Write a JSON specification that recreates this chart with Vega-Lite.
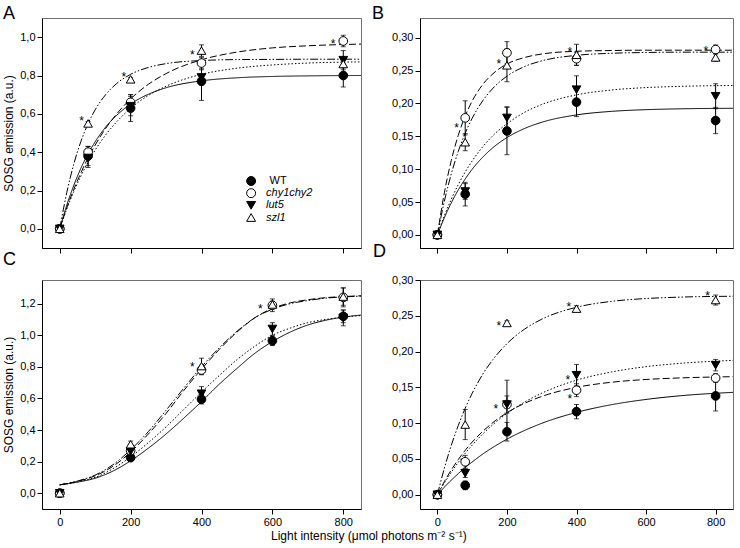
{
"$schema": "https://vega.github.io/schema/vega-lite/v6.json",
"padding": {"left": 2, "top": 4, "right": 6, "bottom": 4},
"background": "white",
"title": {"text": "Light intensity (μmol photons m⁻² s⁻¹)", "orient": "bottom", "anchor": "middle", "fontSize": 12, "fontWeight": "normal", "font": "Liberation Sans", "offset": 3, "color": "black"},
"datasets": {
"legend": [{"series":"WT"},{"series":"chy1chy2"},{"series":"lut5"},{"series":"szl1"}],
"points": [
{"panel":"A","series":"WT","x":0,"y":0,"err":0},{"panel":"A","series":"WT","x":80,"y":0.38,"err":0.05},{"panel":"A","series":"WT","x":200,"y":0.63,"err":0.07},{"panel":"A","series":"WT","x":400,"y":0.77,"err":0.1},{"panel":"A","series":"WT","x":800,"y":0.8,"err":0.06},
{"panel":"A","series":"chy1chy2","x":0,"y":0,"err":0},{"panel":"A","series":"chy1chy2","x":80,"y":0.4,"err":0.03},{"panel":"A","series":"chy1chy2","x":200,"y":0.66,"err":0.04},{"panel":"A","series":"chy1chy2","x":400,"y":0.865,"err":0.03},{"panel":"A","series":"chy1chy2","x":800,"y":0.98,"err":0.03},
{"panel":"A","series":"lut5","x":0,"y":0,"err":0},{"panel":"A","series":"lut5","x":80,"y":0.37,"err":0.05},{"panel":"A","series":"lut5","x":200,"y":0.64,"err":0.05},{"panel":"A","series":"lut5","x":400,"y":0.79,"err":0.04},{"panel":"A","series":"lut5","x":800,"y":0.88,"err":0.05},
{"panel":"A","series":"szl1","x":0,"y":0,"err":0},{"panel":"A","series":"szl1","x":80,"y":0.55,"err":0.01},{"panel":"A","series":"szl1","x":200,"y":0.78,"err":0.01},{"panel":"A","series":"szl1","x":400,"y":0.93,"err":0.03},{"panel":"A","series":"szl1","x":800,"y":0.86,"err":0.02},
{"panel":"B","series":"WT","x":0,"y":0,"err":0},{"panel":"B","series":"WT","x":80,"y":0.062,"err":0.018},{"panel":"B","series":"WT","x":200,"y":0.158,"err":0.036},{"panel":"B","series":"WT","x":400,"y":0.202,"err":0.022},{"panel":"B","series":"WT","x":800,"y":0.174,"err":0.02},
{"panel":"B","series":"chy1chy2","x":0,"y":0,"err":0},{"panel":"B","series":"chy1chy2","x":80,"y":0.178,"err":0.026},{"panel":"B","series":"chy1chy2","x":200,"y":0.277,"err":0.017},{"panel":"B","series":"chy1chy2","x":400,"y":0.268,"err":0.01},{"panel":"B","series":"chy1chy2","x":800,"y":0.282,"err":0.007},
{"panel":"B","series":"lut5","x":0,"y":0,"err":0},{"panel":"B","series":"lut5","x":80,"y":0.066,"err":0.012},{"panel":"B","series":"lut5","x":200,"y":0.178,"err":0.017},{"panel":"B","series":"lut5","x":400,"y":0.221,"err":0.021},{"panel":"B","series":"lut5","x":800,"y":0.211,"err":0.019},
{"panel":"B","series":"szl1","x":0,"y":0,"err":0},{"panel":"B","series":"szl1","x":80,"y":0.141,"err":0.013},{"panel":"B","series":"szl1","x":200,"y":0.258,"err":0.025},{"panel":"B","series":"szl1","x":400,"y":0.274,"err":0.016},{"panel":"B","series":"szl1","x":800,"y":0.27,"err":0.006},
{"panel":"C","series":"WT","x":0,"y":0,"err":0},{"panel":"C","series":"WT","x":200,"y":0.225,"err":0.02},{"panel":"C","series":"WT","x":400,"y":0.595,"err":0.03},{"panel":"C","series":"WT","x":600,"y":0.965,"err":0.03},{"panel":"C","series":"WT","x":800,"y":1.12,"err":0.04},
{"panel":"C","series":"chy1chy2","x":0,"y":0,"err":0},{"panel":"C","series":"chy1chy2","x":200,"y":0.27,"err":0.02},{"panel":"C","series":"chy1chy2","x":400,"y":0.78,"err":0.03},{"panel":"C","series":"chy1chy2","x":600,"y":1.19,"err":0.04},{"panel":"C","series":"chy1chy2","x":800,"y":1.24,"err":0.06},
{"panel":"C","series":"lut5","x":0,"y":0,"err":0},{"panel":"C","series":"lut5","x":200,"y":0.265,"err":0.02},{"panel":"C","series":"lut5","x":400,"y":0.63,"err":0.045},{"panel":"C","series":"lut5","x":600,"y":1.04,"err":0.04},{"panel":"C","series":"lut5","x":800,"y":1.11,"err":0.05},
{"panel":"C","series":"szl1","x":0,"y":0,"err":0},{"panel":"C","series":"szl1","x":200,"y":0.31,"err":0.02},{"panel":"C","series":"szl1","x":400,"y":0.805,"err":0.05},{"panel":"C","series":"szl1","x":600,"y":1.195,"err":0.02},{"panel":"C","series":"szl1","x":800,"y":1.245,"err":0.055},
{"panel":"D","series":"WT","x":0,"y":0,"err":0},{"panel":"D","series":"WT","x":80,"y":0.013,"err":0.006},{"panel":"D","series":"WT","x":200,"y":0.088,"err":0.013},{"panel":"D","series":"WT","x":400,"y":0.116,"err":0.01},{"panel":"D","series":"WT","x":800,"y":0.138,"err":0.021},
{"panel":"D","series":"chy1chy2","x":0,"y":0,"err":0},{"panel":"D","series":"chy1chy2","x":80,"y":0.046,"err":0.009},{"panel":"D","series":"chy1chy2","x":200,"y":0.126,"err":0.012},{"panel":"D","series":"chy1chy2","x":400,"y":0.146,"err":0.009},{"panel":"D","series":"chy1chy2","x":800,"y":0.163,"err":0.006},
{"panel":"D","series":"lut5","x":0,"y":0,"err":0},{"panel":"D","series":"lut5","x":80,"y":0.03,"err":0.006},{"panel":"D","series":"lut5","x":200,"y":0.126,"err":0.034},{"panel":"D","series":"lut5","x":400,"y":0.167,"err":0.015},{"panel":"D","series":"lut5","x":800,"y":0.181,"err":0.008},
{"panel":"D","series":"szl1","x":0,"y":0,"err":0},{"panel":"D","series":"szl1","x":80,"y":0.098,"err":0.021},{"panel":"D","series":"szl1","x":200,"y":0.24,"err":0.003},{"panel":"D","series":"szl1","x":400,"y":0.26,"err":0.004},{"panel":"D","series":"szl1","x":800,"y":0.272,"err":0.007}
],
"curves": [
{"panel":"A","series":"WT","x":0,"y":0},{"panel":"A","series":"WT","x":20,"y":0.124},{"panel":"A","series":"WT","x":40,"y":0.228},{"panel":"A","series":"WT","x":60,"y":0.317},{"panel":"A","series":"WT","x":80,"y":0.391},{"panel":"A","series":"WT","x":100,"y":0.454},{"panel":"A","series":"WT","x":130,"y":0.532},{"panel":"A","series":"WT","x":160,"y":0.591},{"panel":"A","series":"WT","x":200,"y":0.651},{"panel":"A","series":"WT","x":250,"y":0.702},{"panel":"A","series":"WT","x":300,"y":0.736},{"panel":"A","series":"WT","x":400,"y":0.772},{"panel":"A","series":"WT","x":500,"y":0.788},{"panel":"A","series":"WT","x":600,"y":0.795},{"panel":"A","series":"WT","x":700,"y":0.798},{"panel":"A","series":"WT","x":850,"y":0.8},
{"panel":"A","series":"chy1chy2","x":0,"y":0},{"panel":"A","series":"chy1chy2","x":20,"y":0.11},{"panel":"A","series":"chy1chy2","x":40,"y":0.207},{"panel":"A","series":"chy1chy2","x":60,"y":0.293},{"panel":"A","series":"chy1chy2","x":80,"y":0.37},{"panel":"A","series":"chy1chy2","x":100,"y":0.437},{"panel":"A","series":"chy1chy2","x":130,"y":0.525},{"panel":"A","series":"chy1chy2","x":160,"y":0.598},{"panel":"A","series":"chy1chy2","x":200,"y":0.678},{"panel":"A","series":"chy1chy2","x":250,"y":0.754},{"panel":"A","series":"chy1chy2","x":300,"y":0.81},{"panel":"A","series":"chy1chy2","x":400,"y":0.882},{"panel":"A","series":"chy1chy2","x":500,"y":0.922},{"panel":"A","series":"chy1chy2","x":600,"y":0.944},{"panel":"A","series":"chy1chy2","x":700,"y":0.955},{"panel":"A","series":"chy1chy2","x":850,"y":0.964},
{"panel":"A","series":"lut5","x":0,"y":0},{"panel":"A","series":"lut5","x":20,"y":0.104},{"panel":"A","series":"lut5","x":40,"y":0.196},{"panel":"A","series":"lut5","x":60,"y":0.277},{"panel":"A","series":"lut5","x":80,"y":0.348},{"panel":"A","series":"lut5","x":100,"y":0.411},{"panel":"A","series":"lut5","x":130,"y":0.491},{"panel":"A","series":"lut5","x":160,"y":0.557},{"panel":"A","series":"lut5","x":200,"y":0.629},{"panel":"A","series":"lut5","x":250,"y":0.696},{"panel":"A","series":"lut5","x":300,"y":0.744},{"panel":"A","series":"lut5","x":400,"y":0.806},{"panel":"A","series":"lut5","x":500,"y":0.838},{"panel":"A","series":"lut5","x":600,"y":0.855},{"panel":"A","series":"lut5","x":700,"y":0.865},{"panel":"A","series":"lut5","x":850,"y":0.871},
{"panel":"A","series":"szl1","x":0,"y":0},{"panel":"A","series":"szl1","x":20,"y":0.19},{"panel":"A","series":"szl1","x":40,"y":0.34},{"panel":"A","series":"szl1","x":60,"y":0.457},{"panel":"A","series":"szl1","x":80,"y":0.549},{"panel":"A","series":"szl1","x":100,"y":0.621},{"panel":"A","series":"szl1","x":130,"y":0.701},{"panel":"A","series":"szl1","x":160,"y":0.757},{"panel":"A","series":"szl1","x":200,"y":0.806},{"panel":"A","series":"szl1","x":250,"y":0.842},{"panel":"A","series":"szl1","x":300,"y":0.862},{"panel":"A","series":"szl1","x":400,"y":0.878},{"panel":"A","series":"szl1","x":500,"y":0.883},{"panel":"A","series":"szl1","x":600,"y":0.884},{"panel":"A","series":"szl1","x":700,"y":0.885},{"panel":"A","series":"szl1","x":850,"y":0.885},
{"panel":"B","series":"WT","x":0,"y":0},{"panel":"B","series":"WT","x":20,"y":0.026},{"panel":"B","series":"WT","x":40,"y":0.0488},{"panel":"B","series":"WT","x":60,"y":0.0683},{"panel":"B","series":"WT","x":80,"y":0.085},{"panel":"B","series":"WT","x":100,"y":0.0998},{"panel":"B","series":"WT","x":130,"y":0.118},{"panel":"B","series":"WT","x":160,"y":0.1328},{"panel":"B","series":"WT","x":200,"y":0.148},{"panel":"B","series":"WT","x":250,"y":0.1617},{"panel":"B","series":"WT","x":300,"y":0.1713},{"panel":"B","series":"WT","x":400,"y":0.1825},{"panel":"B","series":"WT","x":500,"y":0.1879},{"panel":"B","series":"WT","x":600,"y":0.1905},{"panel":"B","series":"WT","x":700,"y":0.1918},{"panel":"B","series":"WT","x":850,"y":0.1926},
{"panel":"B","series":"chy1chy2","x":0,"y":0},{"panel":"B","series":"chy1chy2","x":20,"y":0.0639},{"panel":"B","series":"chy1chy2","x":40,"y":0.1133},{"panel":"B","series":"chy1chy2","x":60,"y":0.1514},{"panel":"B","series":"chy1chy2","x":80,"y":0.181},{"panel":"B","series":"chy1chy2","x":100,"y":0.2036},{"panel":"B","series":"chy1chy2","x":130,"y":0.2285},{"panel":"B","series":"chy1chy2","x":160,"y":0.2453},{"panel":"B","series":"chy1chy2","x":200,"y":0.26},{"panel":"B","series":"chy1chy2","x":250,"y":0.2698},{"panel":"B","series":"chy1chy2","x":300,"y":0.2752},{"panel":"B","series":"chy1chy2","x":400,"y":0.2794},{"panel":"B","series":"chy1chy2","x":500,"y":0.2805},{"panel":"B","series":"chy1chy2","x":600,"y":0.281},{"panel":"B","series":"chy1chy2","x":700,"y":0.281},{"panel":"B","series":"chy1chy2","x":850,"y":0.281},
{"panel":"B","series":"lut5","x":0,"y":0},{"panel":"B","series":"lut5","x":20,"y":0.029},{"panel":"B","series":"lut5","x":40,"y":0.0543},{"panel":"B","series":"lut5","x":60,"y":0.0764},{"panel":"B","series":"lut5","x":80,"y":0.0957},{"panel":"B","series":"lut5","x":100,"y":0.1125},{"panel":"B","series":"lut5","x":130,"y":0.1338},{"panel":"B","series":"lut5","x":160,"y":0.1512},{"panel":"B","series":"lut5","x":200,"y":0.169},{"panel":"B","series":"lut5","x":250,"y":0.1863},{"panel":"B","series":"lut5","x":300,"y":0.1984},{"panel":"B","series":"lut5","x":400,"y":0.213},{"panel":"B","series":"lut5","x":500,"y":0.2204},{"panel":"B","series":"lut5","x":600,"y":0.2241},{"panel":"B","series":"lut5","x":700,"y":0.226},{"panel":"B","series":"lut5","x":850,"y":0.2273},
{"panel":"B","series":"szl1","x":0,"y":0},{"panel":"B","series":"szl1","x":20,"y":0.051},{"panel":"B","series":"szl1","x":40,"y":0.0928},{"panel":"B","series":"szl1","x":60,"y":0.127},{"panel":"B","series":"szl1","x":80,"y":0.1547},{"panel":"B","series":"szl1","x":100,"y":0.1774},{"panel":"B","series":"szl1","x":130,"y":0.2038},{"panel":"B","series":"szl1","x":160,"y":0.2233},{"panel":"B","series":"szl1","x":200,"y":0.2415},{"panel":"B","series":"szl1","x":250,"y":0.256},{"panel":"B","series":"szl1","x":300,"y":0.2648},{"panel":"B","series":"szl1","x":400,"y":0.2732},{"panel":"B","series":"szl1","x":500,"y":0.2763},{"panel":"B","series":"szl1","x":600,"y":0.2775},{"panel":"B","series":"szl1","x":700,"y":0.278},{"panel":"B","series":"szl1","x":850,"y":0.278},
{"panel":"C","series":"WT","x":0,"y":0.053},{"panel":"C","series":"WT","x":50,"y":0.07},{"panel":"C","series":"WT","x":100,"y":0.095},{"panel":"C","series":"WT","x":150,"y":0.14},{"panel":"C","series":"WT","x":200,"y":0.205},{"panel":"C","series":"WT","x":250,"y":0.285},{"panel":"C","series":"WT","x":300,"y":0.375},{"panel":"C","series":"WT","x":350,"y":0.475},{"panel":"C","series":"WT","x":400,"y":0.58},{"panel":"C","series":"WT","x":450,"y":0.69},{"panel":"C","series":"WT","x":500,"y":0.79},{"panel":"C","series":"WT","x":550,"y":0.885},{"panel":"C","series":"WT","x":600,"y":0.96},{"panel":"C","series":"WT","x":650,"y":1.02},{"panel":"C","series":"WT","x":700,"y":1.065},{"panel":"C","series":"WT","x":750,"y":1.095},{"panel":"C","series":"WT","x":800,"y":1.115},{"panel":"C","series":"WT","x":850,"y":1.128},
{"panel":"C","series":"chy1chy2","x":0,"y":0.053},{"panel":"C","series":"chy1chy2","x":50,"y":0.075},{"panel":"C","series":"chy1chy2","x":100,"y":0.11},{"panel":"C","series":"chy1chy2","x":150,"y":0.17},{"panel":"C","series":"chy1chy2","x":200,"y":0.26},{"panel":"C","series":"chy1chy2","x":250,"y":0.375},{"panel":"C","series":"chy1chy2","x":300,"y":0.505},{"panel":"C","series":"chy1chy2","x":350,"y":0.65},{"panel":"C","series":"chy1chy2","x":400,"y":0.785},{"panel":"C","series":"chy1chy2","x":450,"y":0.91},{"panel":"C","series":"chy1chy2","x":500,"y":1.02},{"panel":"C","series":"chy1chy2","x":550,"y":1.11},{"panel":"C","series":"chy1chy2","x":600,"y":1.17},{"panel":"C","series":"chy1chy2","x":650,"y":1.205},{"panel":"C","series":"chy1chy2","x":700,"y":1.225},{"panel":"C","series":"chy1chy2","x":750,"y":1.238},{"panel":"C","series":"chy1chy2","x":800,"y":1.245},{"panel":"C","series":"chy1chy2","x":850,"y":1.25},
{"panel":"C","series":"lut5","x":0,"y":0.053},{"panel":"C","series":"lut5","x":50,"y":0.072},{"panel":"C","series":"lut5","x":100,"y":0.1},{"panel":"C","series":"lut5","x":150,"y":0.155},{"panel":"C","series":"lut5","x":200,"y":0.23},{"panel":"C","series":"lut5","x":250,"y":0.32},{"panel":"C","series":"lut5","x":300,"y":0.42},{"panel":"C","series":"lut5","x":350,"y":0.53},{"panel":"C","series":"lut5","x":400,"y":0.64},{"panel":"C","series":"lut5","x":450,"y":0.745},{"panel":"C","series":"lut5","x":500,"y":0.845},{"panel":"C","series":"lut5","x":550,"y":0.93},{"panel":"C","series":"lut5","x":600,"y":1.0},{"panel":"C","series":"lut5","x":650,"y":1.045},{"panel":"C","series":"lut5","x":700,"y":1.08},{"panel":"C","series":"lut5","x":750,"y":1.1},{"panel":"C","series":"lut5","x":800,"y":1.115},{"panel":"C","series":"lut5","x":850,"y":1.125},
{"panel":"C","series":"szl1","x":0,"y":0.053},{"panel":"C","series":"szl1","x":50,"y":0.077},{"panel":"C","series":"szl1","x":100,"y":0.115},{"panel":"C","series":"szl1","x":150,"y":0.18},{"panel":"C","series":"szl1","x":200,"y":0.275},{"panel":"C","series":"szl1","x":250,"y":0.39},{"panel":"C","series":"szl1","x":300,"y":0.525},{"panel":"C","series":"szl1","x":350,"y":0.665},{"panel":"C","series":"szl1","x":400,"y":0.8},{"panel":"C","series":"szl1","x":450,"y":0.92},{"panel":"C","series":"szl1","x":500,"y":1.025},{"panel":"C","series":"szl1","x":550,"y":1.11},{"panel":"C","series":"szl1","x":600,"y":1.165},{"panel":"C","series":"szl1","x":650,"y":1.2},{"panel":"C","series":"szl1","x":700,"y":1.22},{"panel":"C","series":"szl1","x":750,"y":1.235},{"panel":"C","series":"szl1","x":800,"y":1.243},{"panel":"C","series":"szl1","x":850,"y":1.248},
{"panel":"D","series":"WT","x":0,"y":0},{"panel":"D","series":"WT","x":20,"y":0.0105},{"panel":"D","series":"WT","x":40,"y":0.0203},{"panel":"D","series":"WT","x":60,"y":0.0294},{"panel":"D","series":"WT","x":80,"y":0.038},{"panel":"D","series":"WT","x":100,"y":0.0457},{"panel":"D","series":"WT","x":130,"y":0.0566},{"panel":"D","series":"WT","x":160,"y":0.0662},{"panel":"D","series":"WT","x":200,"y":0.0776},{"panel":"D","series":"WT","x":250,"y":0.0896},{"panel":"D","series":"WT","x":300,"y":0.0997},{"panel":"D","series":"WT","x":400,"y":0.115},{"panel":"D","series":"WT","x":500,"y":0.1257},{"panel":"D","series":"WT","x":600,"y":0.1331},{"panel":"D","series":"WT","x":700,"y":0.1383},{"panel":"D","series":"WT","x":850,"y":0.143},
{"panel":"D","series":"chy1chy2","x":0,"y":0},{"panel":"D","series":"chy1chy2","x":20,"y":0.0183},{"panel":"D","series":"chy1chy2","x":40,"y":0.0346},{"panel":"D","series":"chy1chy2","x":60,"y":0.0491},{"panel":"D","series":"chy1chy2","x":80,"y":0.062},{"panel":"D","series":"chy1chy2","x":100,"y":0.0735},{"panel":"D","series":"chy1chy2","x":130,"y":0.0883},{"panel":"D","series":"chy1chy2","x":160,"y":0.1009},{"panel":"D","series":"chy1chy2","x":200,"y":0.1146},{"panel":"D","series":"chy1chy2","x":250,"y":0.1275},{"panel":"D","series":"chy1chy2","x":300,"y":0.1373},{"panel":"D","series":"chy1chy2","x":400,"y":0.15},{"panel":"D","series":"chy1chy2","x":500,"y":0.1571},{"panel":"D","series":"chy1chy2","x":600,"y":0.161},{"panel":"D","series":"chy1chy2","x":700,"y":0.1632},{"panel":"D","series":"chy1chy2","x":850,"y":0.1649},
{"panel":"D","series":"lut5","x":0,"y":0},{"panel":"D","series":"lut5","x":20,"y":0.0164},{"panel":"D","series":"lut5","x":40,"y":0.0314},{"panel":"D","series":"lut5","x":60,"y":0.0451},{"panel":"D","series":"lut5","x":80,"y":0.0578},{"panel":"D","series":"lut5","x":100,"y":0.0692},{"panel":"D","series":"lut5","x":130,"y":0.0846},{"panel":"D","series":"lut5","x":160,"y":0.0981},{"panel":"D","series":"lut5","x":200,"y":0.1135},{"panel":"D","series":"lut5","x":250,"y":0.1292},{"panel":"D","series":"lut5","x":300,"y":0.1418},{"panel":"D","series":"lut5","x":400,"y":0.16},{"panel":"D","series":"lut5","x":500,"y":0.1714},{"panel":"D","series":"lut5","x":600,"y":0.1789},{"panel":"D","series":"lut5","x":700,"y":0.1836},{"panel":"D","series":"lut5","x":850,"y":0.1877},
{"panel":"D","series":"szl1","x":0,"y":0},{"panel":"D","series":"szl1","x":20,"y":0.0369},{"panel":"D","series":"szl1","x":40,"y":0.069},{"panel":"D","series":"szl1","x":60,"y":0.0966},{"panel":"D","series":"szl1","x":80,"y":0.1208},{"panel":"D","series":"szl1","x":100,"y":0.1416},{"panel":"D","series":"szl1","x":130,"y":0.168},{"panel":"D","series":"szl1","x":160,"y":0.189},{"panel":"D","series":"szl1","x":200,"y":0.211},{"panel":"D","series":"szl1","x":250,"y":0.2311},{"panel":"D","series":"szl1","x":300,"y":0.2452},{"panel":"D","series":"szl1","x":400,"y":0.2619},{"panel":"D","series":"szl1","x":500,"y":0.2701},{"panel":"D","series":"szl1","x":600,"y":0.2741},{"panel":"D","series":"szl1","x":700,"y":0.2761},{"panel":"D","series":"szl1","x":850,"y":0.2773}
],
"stars": [
{"panel":"A","x":62,"y":0.576},{"panel":"A","x":181,"y":0.81},{"panel":"A","x":374,"y":0.925},{"panel":"A","x":771,"y":0.98},
{"panel":"B","x":55,"y":0.167},{"panel":"B","x":177,"y":0.264},{"panel":"B","x":381,"y":0.283},{"panel":"B","x":772,"y":0.284},
{"panel":"C","x":566,"y":1.183},{"panel":"C","x":374,"y":0.815},
{"panel":"D","x":177,"y":0.24},{"panel":"D","x":378,"y":0.266},{"panel":"D","x":777,"y":0.282},{"panel":"D","x":168,"y":0.124},{"panel":"D","x":375,"y":0.164},{"panel":"D","x":381,"y":0.138}
]
},
"columns": 2,
"spacing": {"row": 32, "column": 59},
"bounds": "flush",
"resolve": {"scale": {"x": "independent", "y": "independent", "shape": "independent", "color": "independent", "strokeDash": "independent"}, "legend": {"shape": "independent", "color": "independent"}},
"concat": [
{"width": 319, "height": 230,
"view": {"stroke": "#707070"},
"title": {"text": "A", "anchor": "start", "frame": "group", "dx": -39, "offset": -19, "fontSize": 18, "fontWeight": "normal", "baseline": "alphabetic"},
"resolve": {"scale": {"y": "independent"}},
"layer": [
{"encoding": {
"x": {"field": "x", "type": "quantitative", "scale": {"domain": [-50, 850], "nice": false, "zero": false}, "axis": {"values": [0,200,400,600,800], "labels": false, "title": null}},
"y": {"field": "y", "type": "quantitative", "scale": {"domain": [-0.1, 1.1], "nice": false, "zero": false}, "axis": {"values": [0,0.2,0.4,0.6,0.8,1.0], "labelExpr": "replace(format(datum.value, '.1f'), '.', ',')", "title": "SOSG emission (a.u.)"}}
},
"layer": [
{"data": {"name": "curves"}, "transform": [{"filter": "datum.panel === 'A'"}], "mark": {"type": "line", "color": "black", "strokeWidth": 1, "interpolate": "monotone"}, "encoding": {"strokeDash": {"field": "series", "type": "nominal", "scale": {"domain": ["WT","chy1chy2","lut5","szl1"], "range": [[1,0],[7,3],[1.5,2],[8,2,1.5,2,1.5,2]]}, "legend": null}}},
{"data": {"name": "points"}, "transform": [{"filter": "datum.panel === 'A'"}], "mark": {"type": "errorbar", "ticks": true, "color": "black"}, "encoding": {"yError": {"field": "err"}}},
{"data": {"name": "points"}, "transform": [{"filter": "datum.panel === 'A'"}], "mark": {"type": "point", "filled": true, "stroke": "black", "strokeWidth": 1, "size": 75, "opacity": 1}, "encoding": {
"shape": {"field": "series", "type": "nominal", "scale": {"domain": ["WT","chy1chy2","lut5","szl1"], "range": ["circle","circle","triangle-down","triangle-up"]}, "legend": null},
"color": {"field": "series", "type": "nominal", "scale": {"domain": ["WT","chy1chy2","lut5","szl1"], "range": ["black","white","black","white"]}, "legend": null}
}},
{"data": {"name": "stars"}, "transform": [{"filter": "datum.panel === 'A'"}], "mark": {"type": "text", "text": "*", "fontSize": 12, "baseline": "alphabetic", "dy": 7, "color": "black"}}
]},
{"data": {"name": "legend"},
"encoding": {
"x": {"datum": 540, "type": "quantitative", "axis": {"values": [0,200,400,600,800], "labels": false, "title": null}},
"y": {"field": "series", "type": "nominal", "scale": {"domain": ["WT","chy1chy2","lut5","szl1"], "range": [163, 199.5], "padding": 0}, "axis": null}
},
"layer": [
{"mark": {"type": "point", "filled": true, "stroke": "black", "strokeWidth": 1, "size": 80, "opacity": 1}, "encoding": {
"shape": {"field": "series", "type": "nominal", "scale": {"domain": ["WT","chy1chy2","lut5","szl1"], "range": ["circle","circle","triangle-down","triangle-up"]}, "legend": null},
"color": {"field": "series", "type": "nominal", "scale": {"domain": ["WT","chy1chy2","lut5","szl1"], "range": ["black","white","black","white"]}, "legend": null}
}},
{"transform": [{"filter": "datum.series === 'WT'"}], "mark": {"type": "text", "align": "left", "baseline": "middle", "fontSize": 11, "color": "black"}, "encoding": {"x": {"datum": 592, "type": "quantitative"}, "text": {"field": "series"}}},
{"transform": [{"filter": "datum.series !== 'WT'"}], "mark": {"type": "text", "align": "left", "baseline": "middle", "fontSize": 11, "fontStyle": "italic", "color": "black"}, "encoding": {"x": {"datum": 582, "type": "quantitative"}, "text": {"field": "series"}}}
]}
]},
{"width": 313, "height": 230,
"view": {"stroke": "#707070"},
"title": {"text": "B", "anchor": "start", "frame": "group", "dx": -48, "offset": -19, "fontSize": 18, "fontWeight": "normal", "baseline": "alphabetic"},
"encoding": {
"x": {"field": "x", "type": "quantitative", "scale": {"domain": [-50, 850], "nice": false, "zero": false}, "axis": {"values": [0,200,400,600,800], "labels": false, "title": null}},
"y": {"field": "y", "type": "quantitative", "scale": {"domain": [-0.02, 0.33], "nice": false, "zero": false}, "axis": {"values": [0,0.05,0.1,0.15,0.2,0.25,0.3], "labelExpr": "replace(format(datum.value, '.2f'), '.', ',')", "title": null}}
},
"layer": [
{"data": {"name": "curves"}, "transform": [{"filter": "datum.panel === 'B'"}], "mark": {"type": "line", "color": "black", "strokeWidth": 1, "interpolate": "monotone"}, "encoding": {"strokeDash": {"field": "series", "type": "nominal", "scale": {"domain": ["WT","chy1chy2","lut5","szl1"], "range": [[1,0],[7,3],[1.5,2],[8,2,1.5,2,1.5,2]]}, "legend": null}}},
{"data": {"name": "points"}, "transform": [{"filter": "datum.panel === 'B'"}], "mark": {"type": "errorbar", "ticks": true, "color": "black"}, "encoding": {"yError": {"field": "err"}}},
{"data": {"name": "points"}, "transform": [{"filter": "datum.panel === 'B'"}], "mark": {"type": "point", "filled": true, "stroke": "black", "strokeWidth": 1, "size": 75, "opacity": 1}, "encoding": {
"shape": {"field": "series", "type": "nominal", "scale": {"domain": ["WT","chy1chy2","lut5","szl1"], "range": ["circle","circle","triangle-down","triangle-up"]}, "legend": null},
"color": {"field": "series", "type": "nominal", "scale": {"domain": ["WT","chy1chy2","lut5","szl1"], "range": ["black","white","black","white"]}, "legend": null}
}},
{"data": {"name": "stars"}, "transform": [{"filter": "datum.panel === 'B'"}], "mark": {"type": "text", "text": "*", "fontSize": 12, "baseline": "alphabetic", "dy": 7, "color": "black"}}
]},
{"width": 319, "height": 229,
"view": {"stroke": "#707070"},
"title": {"text": "C", "anchor": "start", "frame": "group", "dx": -39, "offset": -3, "fontSize": 18, "fontWeight": "normal", "baseline": "alphabetic"},
"encoding": {
"x": {"field": "x", "type": "quantitative", "scale": {"domain": [-50, 850], "nice": false, "zero": false}, "axis": {"values": [0,200,400,600,800], "labels": true, "title": null}},
"y": {"field": "y", "type": "quantitative", "scale": {"domain": [-0.1, 1.35], "nice": false, "zero": false}, "axis": {"values": [0,0.2,0.4,0.6,0.8,1.0,1.2], "labelExpr": "replace(format(datum.value, '.1f'), '.', ',')", "title": "SOSG emission (a.u.)"}}
},
"layer": [
{"data": {"name": "curves"}, "transform": [{"filter": "datum.panel === 'C'"}], "mark": {"type": "line", "color": "black", "strokeWidth": 1, "interpolate": "monotone"}, "encoding": {"strokeDash": {"field": "series", "type": "nominal", "scale": {"domain": ["WT","chy1chy2","lut5","szl1"], "range": [[1,0],[7,3],[1.5,2],[8,2,1.5,2,1.5,2]]}, "legend": null}}},
{"data": {"name": "points"}, "transform": [{"filter": "datum.panel === 'C'"}], "mark": {"type": "errorbar", "ticks": true, "color": "black"}, "encoding": {"yError": {"field": "err"}}},
{"data": {"name": "points"}, "transform": [{"filter": "datum.panel === 'C'"}], "mark": {"type": "point", "filled": true, "stroke": "black", "strokeWidth": 1, "size": 75, "opacity": 1}, "encoding": {
"shape": {"field": "series", "type": "nominal", "scale": {"domain": ["WT","chy1chy2","lut5","szl1"], "range": ["circle","circle","triangle-down","triangle-up"]}, "legend": null},
"color": {"field": "series", "type": "nominal", "scale": {"domain": ["WT","chy1chy2","lut5","szl1"], "range": ["black","white","black","white"]}, "legend": null}
}},
{"data": {"name": "stars"}, "transform": [{"filter": "datum.panel === 'C'"}], "mark": {"type": "text", "text": "*", "fontSize": 12, "baseline": "alphabetic", "dy": 7, "color": "black"}}
]},
{"width": 313, "height": 229,
"view": {"stroke": "#707070"},
"title": {"text": "D", "anchor": "start", "frame": "group", "dx": -47, "offset": -1, "fontSize": 18, "fontWeight": "normal", "baseline": "alphabetic"},
"encoding": {
"x": {"field": "x", "type": "quantitative", "scale": {"domain": [-50, 850], "nice": false, "zero": false}, "axis": {"values": [0,200,400,600,800], "labels": true, "title": null}},
"y": {"field": "y", "type": "quantitative", "scale": {"domain": [-0.02, 0.3], "nice": false, "zero": false}, "axis": {"values": [0,0.05,0.1,0.15,0.2,0.25,0.3], "labelExpr": "replace(format(datum.value, '.2f'), '.', ',')", "title": null}}
},
"layer": [
{"data": {"name": "curves"}, "transform": [{"filter": "datum.panel === 'D'"}], "mark": {"type": "line", "color": "black", "strokeWidth": 1, "interpolate": "monotone"}, "encoding": {"strokeDash": {"field": "series", "type": "nominal", "scale": {"domain": ["WT","chy1chy2","lut5","szl1"], "range": [[1,0],[7,3],[1.5,2],[8,2,1.5,2,1.5,2]]}, "legend": null}}},
{"data": {"name": "points"}, "transform": [{"filter": "datum.panel === 'D'"}], "mark": {"type": "errorbar", "ticks": true, "color": "black"}, "encoding": {"yError": {"field": "err"}}},
{"data": {"name": "points"}, "transform": [{"filter": "datum.panel === 'D'"}], "mark": {"type": "point", "filled": true, "stroke": "black", "strokeWidth": 1, "size": 75, "opacity": 1}, "encoding": {
"shape": {"field": "series", "type": "nominal", "scale": {"domain": ["WT","chy1chy2","lut5","szl1"], "range": ["circle","circle","triangle-down","triangle-up"]}, "legend": null},
"color": {"field": "series", "type": "nominal", "scale": {"domain": ["WT","chy1chy2","lut5","szl1"], "range": ["black","white","black","white"]}, "legend": null}
}},
{"data": {"name": "stars"}, "transform": [{"filter": "datum.panel === 'D'"}], "mark": {"type": "text", "text": "*", "fontSize": 12, "baseline": "alphabetic", "dy": 7, "color": "black"}}
]}
],
"config": {
"font": "Liberation Sans",
"view": {"stroke": "#707070", "strokeWidth": 1},
"axis": {"domainColor": "black", "tickColor": "black", "labelColor": "black", "titleColor": "black", "grid": false, "labelFontSize": 11, "titleFontSize": 12, "titleFontWeight": "normal", "tickSize": 5, "labelPadding": 2, "labelFont": "Liberation Sans", "titleFont": "Liberation Sans", "titlePadding": 4},
"title": {"color": "black", "font": "Liberation Sans"}
}
}
